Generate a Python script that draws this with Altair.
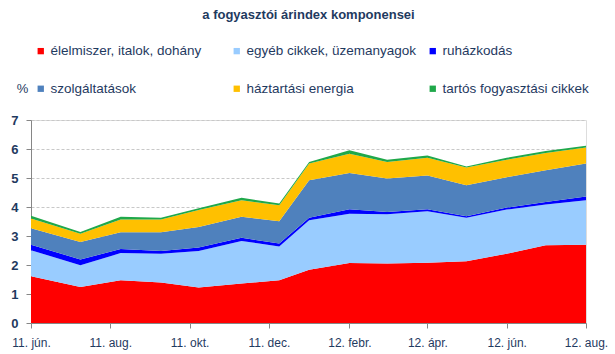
import altair as alt
import pandas as pd

dates = [
    "2011-06-01", "2011-07-09", "2011-08-09", "2011-09-09", "2011-10-08",
    "2011-11-10", "2011-12-09", "2012-01-01", "2012-02-01", "2012-03-01",
    "2012-04-01", "2012-05-01", "2012-06-01", "2012-07-01", "2012-08-01",
]

series_names = [
    "élelmiszer, italok, dohány",
    "egyéb cikkek, üzemanyagok",
    "ruházkodás",
    "szolgáltatások",
    "háztartási energia",
    "tartós fogyasztási cikkek",
]

elelmiszer = [1.61, 1.24, 1.47, 1.40, 1.22, 1.36, 1.47, 1.84, 2.07, 2.05, 2.08, 2.13, 2.39, 2.68, 2.70]
egyeb = [0.90, 0.75, 0.94, 0.99, 1.26, 1.47, 1.17, 1.70, 1.70, 1.70, 1.77, 1.50, 1.52, 1.41, 1.53]
ruhazkodas = [0.19, 0.20, 0.14, 0.09, 0.12, 0.11, 0.10, 0.09, 0.15, 0.08, 0.07, 0.05, 0.07, 0.08, 0.13]
szolgaltatasok = [0.57, 0.60, 0.58, 0.65, 0.71, 0.72, 0.77, 1.29, 1.25, 1.15, 1.17, 1.07, 1.05, 1.10, 1.14]
energia = [0.33, 0.29, 0.44, 0.44, 0.59, 0.57, 0.55, 0.58, 0.67, 0.57, 0.61, 0.61, 0.60, 0.59, 0.55]
tartos = [0.10, 0.06, 0.09, 0.06, 0.06, 0.09, 0.06, 0.05, 0.12, 0.08, 0.08, 0.04, 0.07, 0.07, 0.06]

colors = ["#FF0000", "#99CCFF", "#0000FF", "#4F81BD", "#FFC000", "#1FA84A"]

tick_dates = [(2011, 6), (2011, 8), (2011, 10), (2011, 12), (2012, 2), (2012, 4), (2012, 6), (2012, 8)]
y_ticks = [0, 1, 2, 3, 4, 5, 6, 7]

all_series = [elelmiszer, egyeb, ruhazkodas, szolgaltatasok, energia, tartos]
rows = []
for i, (name, vals) in enumerate(zip(series_names, all_series)):
    for d, v in zip(dates, vals):
        rows.append({"date": d + "T00:00:00", "series": name, "value": v, "idx": i})
df = pd.DataFrame(rows)

navy = "#1F3A5F"
font = "Liberation Sans"

month_expr = ("timeFormat(datum.value, '%y') + '. ' + "
              "['jan.','febr.','márc.','ápr.','máj.','jún.','júl.','aug.','szept.','okt.','nov.','dec.']"
              "[month(datum.value)]")

chart = alt.Chart(df).mark_area(opacity=1, interpolate="linear").encode(
    x=alt.X(
        "date:T",
        scale=alt.Scale(
            domain=[alt.DateTime(year=2011, month=6, date=1), alt.DateTime(year=2012, month=8, date=1)],
            nice=False,
        ),
        axis=alt.Axis(
            title=None,
            values=[alt.DateTime(year=y, month=m, date=1) for y, m in tick_dates],
            labelExpr=month_expr,
            grid=False,
            domainColor="#868686",
            tickColor="#868686",
            tickSize=5,
            labelPadding=9,
            labelFontSize=12,
            labelColor=navy,
            labelFont=font,
            labelFlush=False,
            labelOverlap=False,
        ),
    ),
    y=alt.Y(
        "value:Q",
        stack="zero",
        scale=alt.Scale(domain=[0, 7], nice=False),
        axis=alt.Axis(
            title="%",
            titleAngle=0,
            titleX=-9,
            titleY=-32,
            titleAlign="center",
            titleBaseline="middle",
            titleFontWeight="normal",
            titleFontSize=13,
            titleColor=navy,
            titleFont=font,
            values=y_ticks,
            grid=True,
            gridColor="#C8C8C8",
            gridDash=[3, 2],
            domainColor="#868686",
            tickColor="#868686",
            tickSize=5,
            labelPadding=8,
            labelFontSize=13,
            labelFontWeight="bold",
            labelColor=navy,
            labelFont=font,
        ),
    ),
    color=alt.Color(
        "series:N",
        scale=alt.Scale(domain=series_names, range=colors),
        sort=series_names,
        legend=alt.Legend(
            orient="none",
            legendX=3,
            legendY=-76,
            direction="horizontal",
            columns=3,
            title=None,
            symbolType="square",
            symbolSize=40,
            symbolStrokeWidth=0,
            labelFontSize=13.5,
            labelColor=navy,
            labelFont=font,
            labelOffset=3,
            columnPadding=9,
            rowPadding=23,
            gridAlign="all",
            labelLimit=300,
        ),
    ),
    order=alt.Order("idx:Q", sort="ascending"),
).properties(
    width=555,
    height=203,
    padding={"left": 31, "top": 120, "right": 29, "bottom": 31},
    autosize=alt.AutoSizeParams(type="none"),
    title=alt.Title(
        "a fogyasztói árindex komponensei",
        anchor="middle",
        fontSize=13,
        fontWeight="bold",
        color=navy,
        font=font,
        offset=22,
    ),
).configure_view(stroke=None).configure(background="white")

chart.save("out.html", embed_options={"renderer": "svg", "actions": False})
